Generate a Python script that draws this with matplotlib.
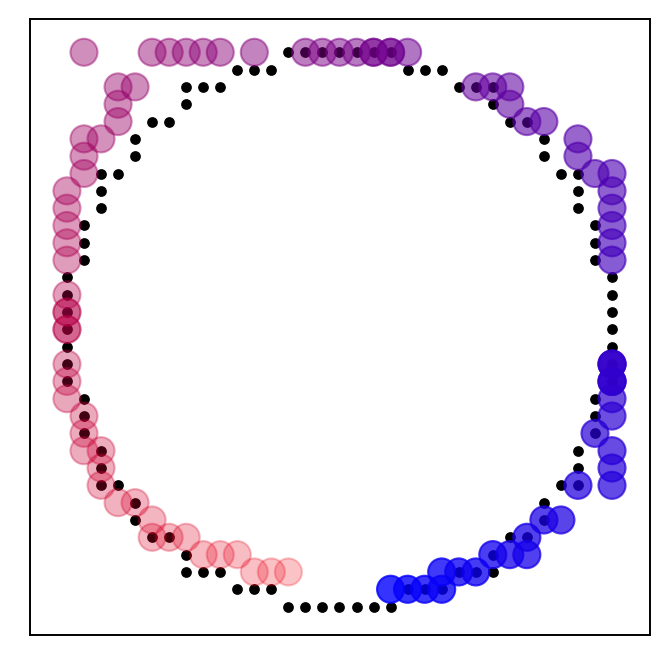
import numpy as np
import matplotlib
matplotlib.use("Agg")
import matplotlib.pyplot as plt

# black ring: grid row -> columns (row 0 at the top)
ring_rows = {
    0: [13, 14, 15, 16, 17, 18, 19],
    1: [10, 11, 12, 20, 21, 22],
    2: [7, 8, 9, 23, 24, 25],
    3: [7, 25],
    4: [5, 6, 26, 27],
    5: [4, 28],
    6: [4, 28],
    7: [2, 3, 29, 30],
    8: [2, 30],
    9: [2, 30],
    10: [1, 31],
    11: [1, 31],
    12: [1, 31],
    13: [0, 32],
    14: [0, 32],
    15: [0, 32],
    16: [0, 32],
    17: [0, 32],
    18: [0, 32],
    19: [0, 32],
    20: [1, 31],
    21: [1, 31],
    22: [1, 31],
    23: [2, 30],
    24: [2, 30],
    25: [2, 3, 29, 30],
    26: [4, 28],
    27: [4, 28],
    28: [5, 6, 26, 27],
    29: [7, 25],
    30: [7, 8, 9, 23, 24, 25],
    31: [10, 11, 12, 20, 21, 22],
    32: [13, 14, 15, 16, 17, 18, 19],
}

# coloured points, same grid (a few repeated where the picture is darker)
blob_rows = {
    0: [1, 5, 6, 7, 8, 9, 11, 14, 15, 16, 17, 18, 18, 19, 19, 20],
    2: [3, 4, 24, 25, 26],
    3: [3, 26],
    4: [3, 27, 28],
    5: [1, 2, 30],
    6: [1, 30],
    7: [1, 31, 32],
    8: [0, 32],
    9: [0, 32],
    10: [0, 32],
    11: [0, 32],
    12: [0, 32],
    14: [0],
    15: [0, 0],
    16: [0, 0],
    18: [0, 32, 32, 32],
    19: [0, 32, 32, 32],
    20: [0, 32],
    21: [1, 32],
    22: [1, 31],
    23: [1, 2, 32],
    24: [2, 32],
    25: [2, 30, 32],
    26: [3, 4],
    27: [5, 28, 29],
    28: [5, 6, 7, 27],
    29: [8, 9, 10, 25, 26, 27],
    30: [11, 12, 13, 22, 23, 24],
    31: [19, 20, 21, 22],
}

ring_x = [c for r, cols in ring_rows.items() for c in cols]
ring_y = [r for r, cols in ring_rows.items() for c in cols]
blob_x = np.array([c for r, cols in blob_rows.items() for c in cols], dtype=float)
blob_y = np.array([r for r, cols in blob_rows.items() for c in cols], dtype=float)

# colour runs blue -> purple -> red going anticlockwise from the bottom
ang = np.degrees(np.arctan2(16 - blob_y, blob_x - 16))
t = ((ang + 80) % 360) / 360.0
colors = np.zeros((len(t), 4))
colors[:, 0] = t
colors[:, 2] = 1 - t
colors[:, 3] = 0.8 - 0.6 * t

fig = plt.figure(figsize=(6.69, 6.65), dpi=100)
ax = fig.add_axes([30 / 669, 1 - 635 / 665, 620 / 669, 616 / 665])

ax.scatter(ring_x, ring_y, s=60, color="black", linewidths=0, zorder=2)
ax.scatter(blob_x, blob_y, s=380, c=colors, linewidths=1.5, zorder=3)

ax.set_xlim(-2.17, 34.23)
ax.set_ylim(33.64, -1.92)
ax.set_xticks([])
ax.set_yticks([])
for sp in ax.spines.values():
    sp.set_linewidth(1.4)

fig.savefig("out.png", dpi=100)
